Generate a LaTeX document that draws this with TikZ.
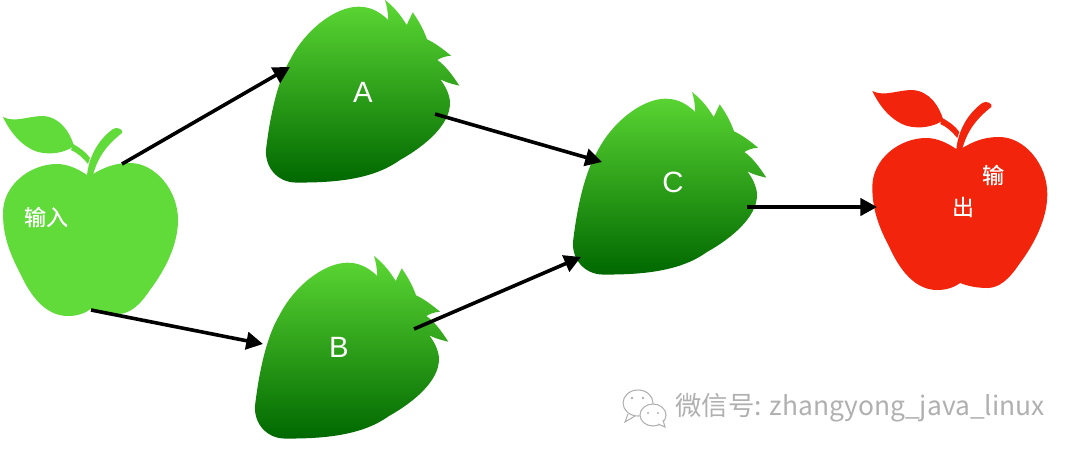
\documentclass[tikz,border=0pt]{standalone}
\usepackage{fontspec}
\setsansfont{Liberation Sans}
\newfontfamily\cjk{Noto Sans CJK SC}
\newfontfamily\cjkheavy[FakeBold=0.4]{Noto Sans CJK SC}
\usetikzlibrary{arrows.meta}
\definecolor{appleGreen}{RGB}{96,219,58}
\definecolor{appleRed}{RGB}{242,36,12}
\definecolor{berryTop}{RGB}{92,216,52}
\definecolor{berryBottom}{RGB}{0,104,0}
\definecolor{markGray}{RGB}{176,176,176}
\tikzset{
  flowline/.style={line width=2.7pt,-{Triangle[length=12.5pt,width=13pt]}},
  fruitlabel/.style={inner sep=0.75pt,text=white,font=\sffamily\fontsize{22}{26}\selectfont},
  cjklabel/.style={inner sep=0.75pt,text=white,font=\cjkheavy\fontsize{16.5}{20}\selectfont},
  pics/applefruit/.style={code={
    \begin{scope}[yscale=-1]
    %body
    \fill[#1] (87,75) .. controls (78,69) and (68,64) .. (57,64)
      .. controls (30,64) and (3,85) .. (3,113)
      .. controls (3,135) and (9,152) .. (20,173)
      .. controls (30,195) and (45,216) .. (68,216)
      .. controls (78,216) and (85,213) .. (91,209)
      .. controls (98,212) and (108,214) .. (118,214)
      .. controls (130,214) and (140,205) .. (150,190)
      .. controls (165,170) and (178,145) .. (178,120)
      .. controls (178,90) and (155,63) .. (130,63)
      .. controls (115,63) and (105,67) .. (93,74) -- cycle;
    %stem
    \fill[#1] (87,76) .. controls (88,62) and (95,42) .. (113,29)
      .. controls (117,26) and (124,30) .. (122,33)
      .. controls (108,44) and (98,56) .. (93,75) -- cycle;
    \fill[#1] (73,44) .. controls (80,48) and (86,52) .. (90,58) -- (88,64)
      .. controls (83,58) and (78,53) .. (71,50) -- cycle;
    %leaf
    \fill[#1] (3,17) .. controls (15,23) and (28,16) .. (43,16)
      .. controls (60,17) and (70,32) .. (74,46)
      .. controls (65,53) and (50,55) .. (38,52)
      .. controls (22,47) and (10,32) .. (3,17) -- cycle;
    \end{scope}
  }},
  pics/berryfruit/.style={code={
    \begin{scope}[yscale=-1]
    \shade[top color=berryTop,bottom color=berryBottom] (138.3,20)
      .. controls (128,10) and (118,6.5) .. (108,6.7)
      .. controls (85,7) and (55,30) .. (40,60)
      .. controls (28,80) and (20,115) .. (16,150)
      .. controls (15,168) and (28,182) .. (45,182.5)
      .. controls (90,183) and (125,178) .. (150,160)
      .. controls (175,146) and (200,125) .. (200,103)
      .. controls (200,95) and (195,85) .. (190,79)
      .. controls (197,83) and (203,84) .. (209.3,85.7)
      .. controls (203,76) and (196,66) .. (187.3,60)
      .. controls (192,57) and (197,56) .. (201,55.7)
      .. controls (193,49) and (185,43) .. (177,39.3)
      .. controls (173,28) and (168,20) .. (162.7,12.3)
      -- (156.7,25)
      .. controls (150,14) and (143,6) .. (135,0)
      .. controls (137,6) and (138,13) .. (138.3,20) -- cycle;
    \end{scope}
  }}
}

\begin{document}
\begin{tikzpicture}[x=0.75pt,y=0.75pt,yscale=-1,xscale=1]
\useasboundingbox (0,0) rectangle (1080,458);

%Fruits
\pic at (0,100) {applefruit=appleGreen};
\pic at (869.3,74) {applefruit=appleRed};
\pic at (250,0) {berryfruit};
\pic at (239,256) {berryfruit};
\pic at (557,92) {berryfruit};

% Text Node
\node (labelInput) [cjklabel] at (46,217) {输入};
\node (labelA) [fruitlabel] at (363,92) {A};
\node (labelB) [fruitlabel] at (339,347) {B};
\node (labelC) [fruitlabel] at (673,182) {C};
\node (labelOutA) [cjklabel] at (993,175) {输};
\node (labelOutB) [cjklabel] at (963,207) {出};

%Straight Lines
\coordinate (inputTop) at (122,164);
\coordinate (inputLow) at (91,310);
\coordinate (berryAin) at (290,67);
\coordinate (berryAout) at (435,114);
\coordinate (berryBin) at (263,344);
\coordinate (berryBout) at (414,329);
\coordinate (berryCinA) at (602,162);
\coordinate (berryCinB) at (581,257);
\coordinate (berryCout) at (747,207);
\coordinate (outputIn) at (877,207);
\draw [flowline] (inputTop) -- (berryAin);
\draw [flowline] (inputLow) -- (berryBin);
\draw [flowline] (berryAout) -- (berryCinA);
\draw [flowline] (berryBout) -- (berryCinB);
\draw [flowline] (berryCout) -- (outputIn);

%Watermark
\draw [markGray,line width=0.8pt] (638,403) ellipse (15 and 13);
\draw [markGray,line width=0.8pt] (628,414) -- (625,422) -- (635,416);
\draw [markGray,line width=0.8pt,fill=white] (653,415) ellipse (13 and 11);
\draw [markGray,line width=0.8pt,fill=white] (658,424) -- (665,427) -- (663,420);
\fill [markGray] (632,398) circle (1.3) (643,398) circle (1.3) (648,413) circle (1.2) (658,413) circle (1.2);
\node (markText) [anchor=west,inner sep=0pt,text=markGray,font=\cjk\fontsize{19.8}{24}\selectfont] at (675,407.5) {微信号: zhangyong\_java\_linux};
\end{tikzpicture}
\end{document}
